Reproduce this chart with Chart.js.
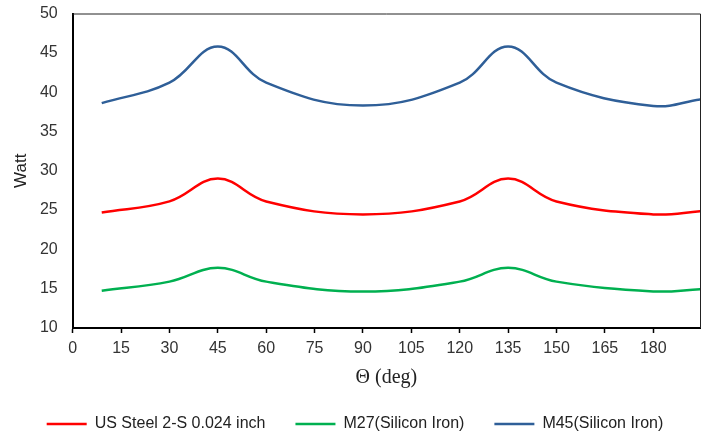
<!DOCTYPE html>
<html>
<head>
<meta charset="utf-8">
<script src="https://cdn.jsdelivr.net/npm/chart.js@4.4.0/dist/chart.umd.min.js"></script>
<style>
  html, body { margin: 0; padding: 0; background: #fff; }
  #wrap { width: 707px; height: 436px; }
</style>
</head>
<body>
<div id="wrap"><canvas id="lossChart" width="707" height="436"></canvas></div>
<script>
// angle in degrees
const thetaDeg = [9, 30, 45, 60, 90, 120, 135, 150, 180, 195]
// watt values
const usSteel = [24.7, 26.1, 29.0, 26.1, 24.45, 26.1, 29.0, 26.1, 24.45, 24.85]
const m27 = [14.75, 15.9, 17.65, 15.9, 14.65, 15.9, 17.65, 15.9, 14.65, 14.95]
const m45 = [38.6, 41.2, 45.8, 41.2, 38.3, 41.2, 45.8, 41.2, 38.25, 39.1]
const seriesNames = ['US Steel 2-S 0.024 inch', 'M27(Silicon Iron)', 'M45(Silicon Iron)']
const seriesColors = ['#ff0000', '#00b050', '#2f5f98']
const xTicks = [0, 15, 30, 45, 60, 75, 90, 105, 120, 135, 150, 165, 180]

const toPoints = vals => thetaDeg.map((t, i) => ({ x: t, y: vals[i] }))

// rahmen oben/rechts um die plotfläche
const frame = {
  id: 'frame',
  afterDatasetsDraw(chart) {
    const { ctx, chartArea: a } = chart
    ctx.save()
    ctx.strokeStyle = '#222'
    ctx.lineWidth = 1
    ctx.beginPath()
    ctx.moveTo(a.left, a.top + 0.5)
    ctx.lineTo(a.right + 0.5, a.top + 0.5)
    ctx.lineTo(a.right + 0.5, a.bottom)
    ctx.stroke()
    ctx.restore()
  }
}

const tickFont = { family: 'Liberation Sans', size: 16 }

new Chart(document.getElementById('lossChart'), {
  type: 'line',
  data: {
    datasets: [usSteel, m27, m45].map((vals, i) => ({
      label: seriesNames[i],
      data: toPoints(vals),
      borderColor: seriesColors[i],
      backgroundColor: seriesColors[i],
      borderWidth: 2.5,
      pointRadius: 0,
      tension: 0.4,
      fill: false
    }))
  },
  options: {
    responsive: false,
    animation: false,
    layout: { padding: { left: 10, right: 7, top: 13.5, bottom: -6 } },
    plugins: {
      legend: {
        position: 'bottom',
        labels: {
          usePointStyle: true,
          pointStyle: 'line',
          pointStyleWidth: 40,
          padding: 30,
          color: '#222',
          font: { family: 'Liberation Sans', size: 16 }
        }
      },
      tooltip: { enabled: false }
    },
    scales: {
      x: {
        type: 'linear',
        min: 0,
        max: 194.5,
        afterBuildTicks: axis => { axis.ticks = xTicks.map(v => ({ value: v })) },
        afterFit: s => { s.height = 58 },
        ticks: { color: '#333', font: tickFont, padding: 6, autoSkip: false, maxRotation: 0 },
        grid: { drawOnChartArea: false, drawTicks: true, tickLength: 5, color: '#000', tickWidth: 1.5 },
        border: { color: '#000', width: 2 },
        title: {
          display: true,
          text: 'Θ (deg)',
          color: '#222',
          font: { family: 'Liberation Serif', size: 20, lineHeight: 1 },
          padding: { top: 0, bottom: -2 }
        }
      },
      y: {
        min: 10,
        max: 50,
        afterFit: s => { s.width = 62.7; s.paddingTop = 0; s.paddingBottom = 0 },
        ticks: { stepSize: 5, color: '#333', font: tickFont, padding: 15 },
        grid: { display: false, drawTicks: false },
        border: { color: '#000', width: 2 },
        title: {
          display: true,
          text: 'Watt',
          color: '#222',
          font: { family: 'Liberation Sans', size: 17, lineHeight: 1 },
          padding: { top: 3, bottom: 0 }
        }
      }
    }
  },
  plugins: [frame]
})
</script>
</body>
</html>
